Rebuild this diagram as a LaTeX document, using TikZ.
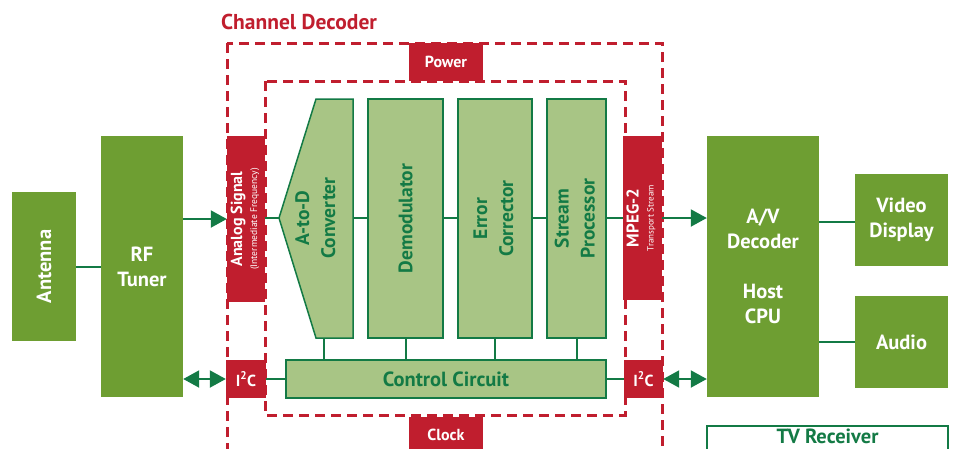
\documentclass[tikz,border=0pt]{standalone}
\usepackage{fontspec}
\setmainfont{PT Sans}
\usetikzlibrary{arrows.meta}
\definecolor{dgreen}{HTML}{6E9E32}
\definecolor{lgreen}{HTML}{A8C585}
\definecolor{lnk}{HTML}{137A45}
\definecolor{cred}{HTML}{C01E2E}
\tikzset{
  blk/.style={fill=dgreen, text=white, inner sep=0pt, align=center, font=\bfseries\fontsize{20.5}{25}\selectfont},
  lblk/.style={fill=lgreen, draw=lnk, line width=1.5pt, text=lnk, inner sep=0pt, align=center, font=\bfseries\fontsize{19.5}{26}\selectfont},
  rbox/.style={fill=cred, text=white, inner sep=0pt, align=center, font=\bfseries\fontsize{16}{18}\selectfont},
  dash box/.style={draw=cred, line width=3pt, dash pattern=on 10pt off 6pt},
  conn/.style={draw=lnk, line width=2pt},
  tip/.style={-{Triangle[length=16pt,width=17pt]}},
  dtip/.style={{Triangle[length=16pt,width=17pt]}-{Triangle[length=16pt,width=17pt]}},
}
\begin{document}
\begin{tikzpicture}[x=1pt,y=-1pt]
\useasboundingbox (0,0) rectangle (953,448);
\clip (0,0) rectangle (953,448);
% title
\node[anchor=west, text=cred, font=\bfseries\fontsize{21.5}{24}\selectfont, inner sep=0pt] (title) at (221,22) {Channel Decoder};
% dashed frames
\draw[dash box] (227,43) rectangle (662,475);
\draw[dash box] (265,81) rectangle (625,415);
% left blocks
\node[blk, minimum width=64pt, minimum height=149pt] (ant) at (44,266.5) {\rotatebox{90}{Antenna}};
\node[blk, minimum width=82pt, minimum height=261pt] (rf) at (142,266.5) {RF\\Tuner};
% right blocks
\node[blk, minimum width=112pt, minimum height=261pt] (av) at (763,266.5) {A/V\\Decoder\\[25pt]Host\\CPU};
\node[blk, minimum width=93pt, minimum height=92pt] (vid) at (901.5,220) {Video\\Display};
\node[blk, minimum width=93pt, minimum height=92pt] (aud) at (901.5,342) {Audio};
\draw[draw=lnk, line width=1.5pt] (707,475) |- (948,426) -- (948,475);
\node[anchor=base, text=lnk, font=\bfseries\fontsize{20.5}{22}\selectfont, inner sep=0pt] (tvr) at (827.5,443) {TV Receiver};
% red boxes
\node[rbox, minimum width=74pt, minimum height=38pt] (pow) at (446,62) {Power};
\node[rbox, minimum width=74pt, minimum height=36pt] (clk) at (446,435) {Clock};
\node[rbox, minimum width=38pt, minimum height=166pt] (an) at (246,219) {\rotatebox{90}{\begin{tabular}{@{}c@{}}\fontsize{16}{16}\selectfont Analog Signal\\[-3pt]\fontsize{9.5}{10}\selectfont\mdseries (Intermediate Frequency)\end{tabular}}};
\node[rbox, minimum width=39pt, minimum height=164pt] (mpeg) at (642.5,218) {\rotatebox{90}{\begin{tabular}{@{}c@{}}\fontsize{17}{17}\selectfont MPEG-2\\[-3pt]\fontsize{9}{10}\selectfont\mdseries Transport Stream\end{tabular}}};
\node[rbox, minimum width=40pt, minimum height=38pt] (i2cl) at (246,379) {I\textsuperscript{2}C};
\node[rbox, minimum width=39pt, minimum height=38pt] (i2cr) at (643.5,379) {I\textsuperscript{2}C};
% decoder stages
\coordinate (adctip) at (279,218);
\coordinate (adcR) at (353,218);
\coordinate (adcB) at (324,338);
\draw[fill=lgreen, draw=lnk, line width=1.5pt, line join=miter] (316,99) -- (353,99) -- (353,338) -- (316,338) -- (adctip) -- cycle;
\node[text=lnk, align=center, inner sep=0pt, font=\bfseries\fontsize{19.5}{26}\selectfont] (adc) at (317,218) {\rotatebox{90}{\begin{tabular}{@{}c@{}}A-to-D\\Converter\end{tabular}}};
\node[lblk, minimum width=75pt, minimum height=239pt] (dem) at (405.5,218.5) {\rotatebox{90}{Demodulator}};
\node[lblk, minimum width=74pt, minimum height=239pt] (err) at (495,218.5) {\rotatebox{90}{\begin{tabular}{@{}c@{}}Error\\Corrector\end{tabular}}};
\node[lblk, minimum width=59pt, minimum height=239pt] (str) at (576.5,218.5) {\rotatebox{90}{\begin{tabular}{@{}c@{}}Stream\\Processor\end{tabular}}};
\node[lblk, minimum width=320pt, minimum height=38pt, font=\bfseries\fontsize{20.5}{22}\selectfont] (ctrl) at (446,379) {Control Circuit};
% connectors
\draw[conn] (ant) -- (rf);
\draw[conn, tip] (rf.east |- an.west) -- (an.west);
\draw[conn, dtip] (rf.east |- i2cl.west) -- (i2cl.west);
\draw[conn] (an.east |- adctip) -- (adctip);
\draw[conn] (adcR) -- (dem.west |- adcR);
\draw[conn] (dem.east |- adcR) -- (err.west |- adcR);
\draw[conn] (err.east |- adcR) -- (str.west |- adcR);
\draw[conn] (str.east |- adcR) -- (mpeg.west |- adcR);
\draw[conn, tip] (mpeg.east |- adcR) -- (av.west |- adcR);
\draw[conn, dtip] (i2cr.east) -- (av.west |- i2cr.east);
\draw[conn] (i2cl.east) -- (ctrl.west);
\draw[conn] (ctrl.east) -- (i2cr.west);
\draw[conn] (adcB) -- (adcB |- ctrl.north);
\draw[conn] (dem.south) -- (dem.south |- ctrl.north);
\draw[conn] (err.south) -- (err.south |- ctrl.north);
\draw[conn] (str.south) -- (str.south |- ctrl.north);
\draw[conn] (av.east |- 0,222) -- (vid.west |- 0,222);
\draw[conn] (av.east |- aud.west) -- (aud.west);
\end{tikzpicture}
\end{document}
